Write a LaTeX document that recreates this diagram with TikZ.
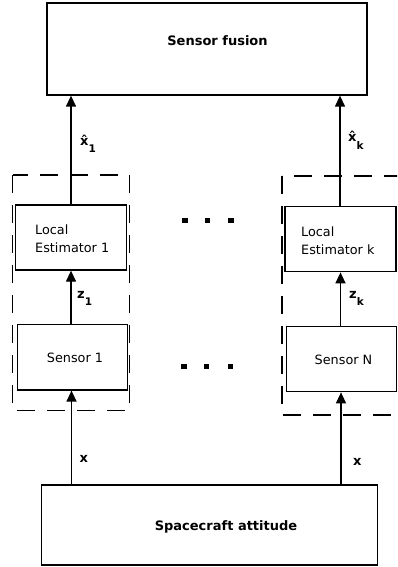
\documentclass[tikz,border=0pt]{standalone}
\usepackage{fontspec}
\setmainfont{DejaVu Sans}
\usetikzlibrary{arrows.meta}
\begin{document}
\begin{tikzpicture}[x=1pt,y=-1pt,
  blk/.style={draw,line width=1.3pt,inner sep=0pt},
  txt/.style={inner sep=0pt,font=\fontsize{12.8}{18}\selectfont},
  btxt/.style={inner sep=0pt,font=\fontsize{13}{15}\selectfont\bfseries},
  lbl/.style={inner sep=0pt,anchor=base west,font=\fontsize{13}{15}\selectfont\bfseries},
  sub/.style={},
  arr/.style={line width=1.3pt,-{Triangle[length=11pt,width=10pt]}},
  grp/.style={draw,line width=1.3pt,dash pattern=on 18pt off 12pt},
  dot/.style={fill=black,minimum size=5.5pt,inner sep=0pt}]
\useasboundingbox (0,0) rectangle (397,567);
\clip (0,0) rectangle (397,567);
\newcommand\lsub[1]{\raisebox{-7.5pt}{\fontsize{10.5}{12}\selectfont #1}}
% boxes
\node[blk,minimum width=320pt,minimum height=92pt] (fusion) at (207,49) {};
\node[btxt] (fusiontxt) at (217.5,41) {Sensor fusion};
\node[blk,minimum width=111pt,minimum height=65pt] (le1) at (71,237.5) {};
\node[txt,anchor=west,align=left] (le1txt) at (35,239) {Local\\Estimator 1};
\node[blk,minimum width=111pt,minimum height=65pt] (lek) at (340.5,239.2) {};
\node[txt,anchor=west,align=left] (lektxt) at (301,240.5) {Local\\Estimator k};
\node[blk,minimum width=110pt,minimum height=65.5pt] (s1) at (72.3,357.2) {};
\node[txt] (s1txt) at (75,358) {Sensor 1};
\node[blk,minimum width=110pt,minimum height=65pt] (sN) at (341.5,359.2) {};
\node[txt] (sNtxt) at (343.5,359.5) {Sensor N};
\node[blk,minimum width=336pt,minimum height=80pt] (sc) at (209.5,525) {};
\node[btxt] (sctxt) at (226,527) {Spacecraft attitude};
% dashed groups
\draw[grp] (12.5,175) rectangle (129.5,410.5);
\draw[grp] (282,176) rectangle (403,415);
% arrows
\draw[arr] (le1.north -| 71,0) -- (fusion.south -| 71,0);
\draw[arr] (lek.north -| 340,0) -- (fusion.south -| 340,0);
\draw[arr] (s1.north -| 71,0) -- (le1.south -| 71,0);
\draw[arr] (sN.north -| 340.5,0) -- (lek.south -| 340.5,0);
\draw[arr] (sc.north -| 71.5,0) -- (s1.south -| 71.5,0);
\draw[arr] (sc.north -| 341,0) -- (sN.south -| 341,0);
% labels
\node[lbl] (l1) at (80,145) {\^{x}\lsub{1}};
\node[lbl] (lk) at (348,141.7) {\^{x}\lsub{k}};
\node[lbl] (z1) at (77,298.3) {z\lsub{1}};
\node[lbl] (zk) at (349,298.3) {z\lsub{k}};
\node[lbl] (x1) at (79.3,462.7) {x};
\node[lbl] (xk) at (353,465) {x};
% dots
\foreach \i/\xx in {1/185,2/207.7,3/231} \node[dot] (dt\i) at (\xx,220.7) {};
\foreach \i/\xx in {1/184,2/206.7,3/230.7} \node[dot] (db\i) at (\xx,366.7) {};
\end{tikzpicture}
\end{document}
